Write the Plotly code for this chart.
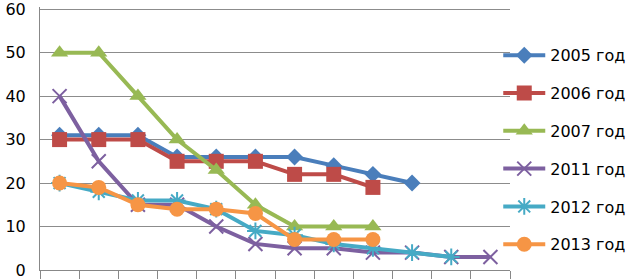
import plotly.graph_objects as go

categories = list(range(1, 13))
series_names = ["2005 год", "2006 год", "2007 год", "2011 год", "2012 год", "2013 год"]
v2005 = [31, 31, 31, 26, 26, 26, 26, 24, 22, 20]
v2006 = [30, 30, 30, 25, 25, 25, 22, 22, 19]
v2007 = [50, 50, 40, 30, 23, 15, 10, 10, 10]
v2011 = [40, 25, 15, 15, 10, 6, 5, 5, 4, 4, 3, 3]
v2012 = [20, 18, 16, 16, 14, 9, 8, 6, 5, 4, 3]
v2013 = [20, 19, 15, 14, 14, 13, 7, 7, 7]
y_ticks = [0, 10, 20, 30, 40, 50, 60]

values = [v2005, v2006, v2007, v2011, v2012, v2013]
colors = ["#4A7EBB", "#BE4B48", "#98B954", "#7D60A0", "#46AAC5", "#F69545"]
symbols = ["diamond", "square", "triangle-up", "x-thin-open", "asterisk-open", "circle"]
sizes = [13, 15, 15, 14, 14, 15]

fig = go.Figure()
for i, (name, vals) in enumerate(zip(series_names, values)):
    open_sym = symbols[i].endswith("open")
    fig.add_trace(go.Scatter(
        x=categories[:len(vals)], y=vals, name=name, mode="lines+markers",
        line=dict(color=colors[i], width=4),
        marker=dict(symbol=symbols[i], size=sizes[i], color=colors[i],
                    line=dict(color=colors[i], width=2 if open_sym else 0)),
        legendgroup=name,
    ))

fig.update_layout(
    width=638, height=279,
    margin=dict(l=40, r=108, t=7, b=9),
    paper_bgcolor="white", plot_bgcolor="white",
    font=dict(family="DejaVu Sans, sans-serif", size=16, color="black"),
    showlegend=True,
    legend=dict(x=0.975, y=0.881, xanchor="left", yanchor="top",
                bgcolor="rgba(0,0,0,0)", tracegroupgap=14,
                font=dict(size=16), itemwidth=42),
    xaxis=dict(range=[0.5, 12.5], tickvals=[k + 0.5 for k in range(0, 13)],
               ticktext=[""] * 13, ticks="outside", ticklen=8, tickcolor="#888",
               showgrid=False, showline=True, linecolor="#888", linewidth=1,
               zeroline=False, automargin=False),
    yaxis=dict(range=[0, 60.5], tickvals=y_ticks, showgrid=True, gridcolor="#8c8c8c",
               gridwidth=1, showline=True, linecolor="#888", linewidth=1,
               zeroline=False, ticks="", ticklabelstandoff=10, automargin=False,
               ticklabeloverflow="allow", tickfont=dict(size=16)),
)

fig.write_html("out.html", config={"displayModeBar": False},
               post_script="document.body.style.margin='0';")
